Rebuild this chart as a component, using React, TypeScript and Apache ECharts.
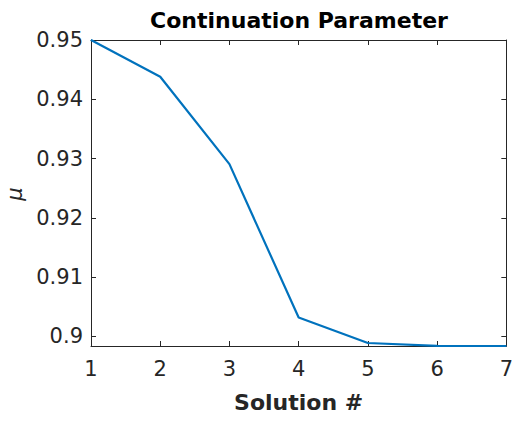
import React, { useEffect, useRef } from "react";
import * as echarts from "echarts";

const solutions = [1, 2, 3, 4, 5, 6, 7];
const muValues = [0.95, 0.9438, 0.92905, 0.90316, 0.89887, 0.89838, 0.89836];
const xTicks = [1, 2, 3, 4, 5, 6, 7];
const yTicks = [0.9, 0.91, 0.92, 0.93, 0.94, 0.95];
const yMin = 0.89836;
const yMax = 0.95;

const titleText = "Continuation Parameter";
const xLabel = "Solution #";
const yLabel = "μ";

const AXIS_COLOR = "#262626";
const FONT = "DejaVu Sans";

export default function App() {
  const ref = useRef<HTMLDivElement>(null);
  useEffect(() => {
    if (!ref.current) return;
    const chart = echarts.init(ref.current, undefined, { renderer: "svg" });
    const axisCommon = {
      axisLine: { show: true, lineStyle: { color: AXIS_COLOR, width: 1 } },
      splitLine: { show: false },
    };
    chart.setOption({
      animation: false,
      backgroundColor: "#ffffff",
      title: {
        text: titleText,
        left: 294,
        top: 4,
        textAlign: "center",
        textStyle: { fontFamily: FONT, fontSize: 22, fontWeight: "bold", color: "#000000" },
      },
      grid: { left: 91, right: 8, top: 40, bottom: 75, containLabel: false },
      xAxis: [
        {
          ...axisCommon,
          type: "value",
          min: 1,
          max: 7,
          interval: 1,
          position: "bottom",
          name: xLabel,
          nameLocation: "middle",
          nameGap: 45,
          nameTextStyle: { fontFamily: FONT, fontSize: 22, fontWeight: "bold", color: AXIS_COLOR },
          axisTick: { show: true, inside: true, length: 5, lineStyle: { color: AXIS_COLOR } },
          axisLabel: {
            customValues: xTicks,
            margin: 12,
            fontFamily: FONT,
            fontSize: 21,
            color: AXIS_COLOR,
          },
        },
        {
          ...axisCommon,
          type: "value",
          min: 1,
          max: 7,
          interval: 1,
          position: "top",
          axisTick: { show: true, inside: true, length: 5, lineStyle: { color: AXIS_COLOR } },
          axisLabel: { show: false },
        },
      ],
      yAxis: [
        {
          ...axisCommon,
          type: "value",
          min: yMin,
          max: yMax,
          position: "left",
          axisTick: {
            show: true,
            inside: true,
            length: 5,
            customValues: yTicks,
            lineStyle: { color: AXIS_COLOR },
          },
          axisLabel: {
            customValues: yTicks,
            margin: 8,
            fontFamily: FONT,
            fontSize: 21,
            color: AXIS_COLOR,
            formatter: (v: number) => String(Math.round(v * 100) / 100),
          },
        },
        {
          ...axisCommon,
          type: "value",
          min: yMin,
          max: yMax,
          position: "right",
          axisTick: {
            show: true,
            inside: true,
            length: 5,
            customValues: yTicks,
            lineStyle: { color: AXIS_COLOR },
          },
          axisLabel: { show: false },
        },
      ],
      graphic: [
        {
          type: "text",
          x: 15,
          y: 194,
          rotation: Math.PI / 2,
          style: {
            text: yLabel,
            fontFamily: FONT,
            fontSize: 21,
            fontStyle: "italic",
            fill: AXIS_COLOR,
            textAlign: "center",
            textVerticalAlign: "middle",
          },
        },
      ],
      series: [
        {
          type: "line",
          data: solutions.map((s, i) => [s, muValues[i]]),
          xAxisIndex: 0,
          yAxisIndex: 0,
          showSymbol: false,
          symbol: "none",
          clip: false,
          lineStyle: { color: "#0072BD", width: 2.2 },
        },
      ],
    });
    return () => chart.dispose();
  }, []);
  return <div ref={ref} style={{ width: 516, height: 421, position: "absolute", left: 0, top: 0 }} />;
}
